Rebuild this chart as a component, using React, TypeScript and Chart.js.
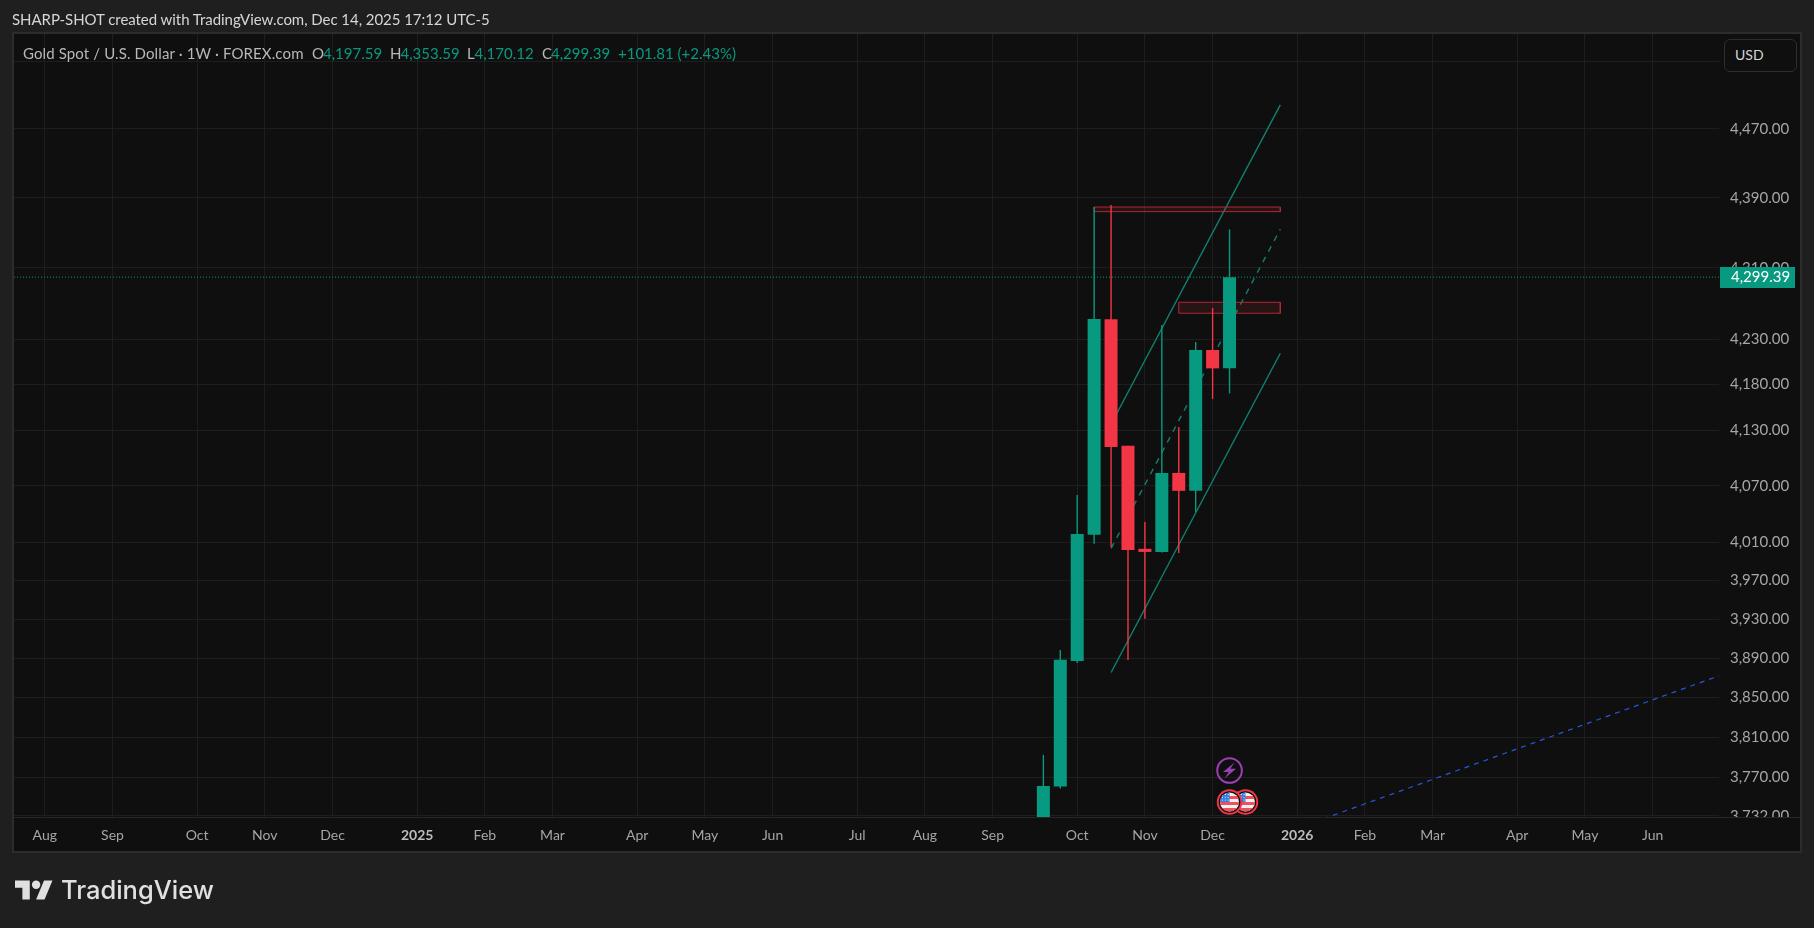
import React, { useEffect, useRef } from 'react';
import { Chart, registerables } from 'chart.js';

Chart.register(...registerables);

const FONT = 'Lato, "Open Sans", sans-serif';
const GREEN = '#089981';
const RED = '#f23645';

// weekly candles, week 0 = 2025-09-22
const weeks = [0, 1, 2, 3, 4, 5, 6, 7, 8, 9, 10, 11];
const opens = [3685, 3761, 3887, 4018, 4252, 4113, 4003.3, 4000, 4083.9, 4064.7, 4217.9, 4197.59];
const highs = [3792.4, 3898.4, 4060.4, 4379.3, 4381.7, 4113, 4031.7, 4245.8, 4133.5, 4226.8, 4264.7, 4353.59];
const lows = [3680, 3759, 3885, 4008.5, 4005.3, 3888, 3930.3, 3999.5, 3999, 4042.3, 4164, 4170.12];
const closes = [3761.6, 3888.2, 4019, 4252.4, 4111.9, 4002, 4000, 4083.9, 4064.7, 4217.9, 4197.59, 4299.39];

// price axis
const priceTicks = [4550, 4470, 4390, 4310, 4230, 4180, 4130, 4070, 4010, 3970, 3930, 3890, 3850, 3810, 3770, 3732];
const hiddenPriceLabels = [4550];
const lastPrice = 4299.39;

// time axis (weeks relative to week 0)
const timeTicks = [-59, -55, -50, -46, -42, -37, -33, -29, -24, -20, -16, -11, -7, -3, 2, 6, 10, 15, 19, 23, 28, 32, 36];
const timeLabels = ['Aug', 'Sep', 'Oct', 'Nov', 'Dec', '2025', 'Feb', 'Mar', 'Apr', 'May', 'Jun', 'Jul', 'Aug', 'Sep', 'Oct', 'Nov', 'Dec', '2026', 'Feb', 'Mar', 'Apr', 'May', 'Jun'];

// drawings on the chart: [week, price]
const channelUpper = [[4, 4136.4], [14, 4498.3]];
const channelMiddle = [[4, 4003.7], [14, 4353.9]];
const channelLower = [[4, 3875.3], [14, 4214.3]];
const blueTrend = [[16, 3725.9], [40, 3872.4]];
const zoneTop = { from: 3, to: 14, high: 4379.3, low: 4374 };
const zoneMid = { from: 8, to: 14, high: 4271.1, low: 4258.8 };

const toPoints = (pts: number[][]) => pts.map(([x, y]) => ({ x, y }));
const zonePoints = (z: { from: number; to: number; high: number; low: number }) => [
  { x: z.from, y: z.high },
  { x: z.to, y: z.high },
  { x: z.to, y: z.low },
  { x: z.from, y: z.low },
  { x: z.from, y: z.high }
];

const formatPrice = (v: number) =>
  v.toLocaleString('en-US', { minimumFractionDigits: 2, maximumFractionDigits: 2 });

function drawFlag(ctx: CanvasRenderingContext2D, cx: number, cy: number) {
  ctx.save();
  ctx.beginPath();
  ctx.arc(cx, cy, 12.8, 0, Math.PI * 2);
  ctx.fillStyle = RED;
  ctx.fill();
  ctx.beginPath();
  ctx.arc(cx, cy, 10.8, 0, Math.PI * 2);
  ctx.fillStyle = '#0f0f0f';
  ctx.fill();
  ctx.beginPath();
  ctx.arc(cx, cy, 9.5, 0, Math.PI * 2);
  ctx.clip();
  ctx.fillStyle = '#f0f0f0';
  ctx.fillRect(cx - 10, cy - 10, 20, 20);
  ctx.fillStyle = '#f0505c';
  for (let i = 0; i < 3; i++) ctx.fillRect(cx - 10, cy - 6 + i * 6, 20, 3);
  ctx.fillStyle = '#2f7fe0';
  ctx.fillRect(cx - 10, cy - 10, 10, 10);
  ctx.fillStyle = '#e8f0ff';
  for (let i = 0; i < 3; i++) {
    for (let j = 0; j < 3; j++) ctx.fillRect(cx - 7.5 + i * 2.8, cy - 8 + j * 2.8, 1, 1);
  }
  ctx.restore();
}

function drawBolt(ctx: CanvasRenderingContext2D, cx: number, cy: number) {
  ctx.save();
  ctx.beginPath();
  ctx.arc(cx, cy, 12.3, 0, Math.PI * 2);
  ctx.lineWidth = 2;
  ctx.strokeStyle = '#9c3fb5';
  ctx.stroke();
  ctx.beginPath();
  ctx.moveTo(cx + 5, cy - 8);
  ctx.lineTo(cx - 6.5, cy + 1.5);
  ctx.lineTo(cx - 0.8, cy + 1.5);
  ctx.lineTo(cx - 5, cy + 8);
  ctx.lineTo(cx + 6.5, cy - 1.8);
  ctx.lineTo(cx + 0.8, cy - 1.8);
  ctx.closePath();
  ctx.fillStyle = '#9c3fb5';
  ctx.fill();
  ctx.restore();
}

const panelPlugin = {
  id: 'panel',
  beforeDraw(chart: Chart) {
    const ctx = chart.ctx;
    ctx.save();
    ctx.fillStyle = '#1f1f1f';
    ctx.fillRect(0, 0, 1814, 928);
    ctx.fillStyle = '#2c2c2c';
    ctx.fillRect(12, 32, 1790, 821);
    ctx.fillStyle = '#0f0f0f';
    ctx.fillRect(14, 34, 1786, 817);
    ctx.restore();
  },
  // time axis strip goes over the bottom price label, time labels come after it (ticks.z = 1)
  afterDatasetsDraw(chart: Chart) {
    const ctx = chart.ctx;
    const x = chart.scales.x;
    ctx.save();
    ctx.fillStyle = '#0f0f0f';
    ctx.fillRect(14, 817, 1786, 34);
    ctx.fillStyle = '#262626';
    ctx.fillRect(14, 817, 1786, 1);
    drawBolt(ctx, x.getPixelForValue(11), 770.5);
    drawFlag(ctx, x.getPixelForValue(12) - 1, 802);
    drawFlag(ctx, x.getPixelForValue(11), 802);

    // last price tag
    const y = chart.scales.y.getPixelForValue(lastPrice);
    ctx.fillStyle = GREEN;
    ctx.fillRect(1720, Math.round(y) - 10, 75, 21);
    ctx.fillStyle = '#ffffff';
    ctx.font = `15px ${FONT}`;
    ctx.textBaseline = 'middle';
    ctx.textAlign = 'left';
    ctx.fillText(formatPrice(lastPrice), 1731, Math.round(y) + 0.5);
    ctx.restore();
  }
};

const legendParts = [
  { text: 'O', x: 312, color: '#b8b8b8' },
  { text: '4,197.59', x: 323, color: GREEN },
  { text: 'H', x: 390, color: '#b8b8b8' },
  { text: '4,353.59', x: 400.5, color: GREEN },
  { text: 'L', x: 467, color: '#b8b8b8' },
  { text: '4,170.12', x: 474.5, color: GREEN },
  { text: 'C', x: 542, color: '#b8b8b8' },
  { text: '4,299.39', x: 551, color: GREEN },
  { text: '+101.81 (+2.43%)', x: 618, color: GREEN }
];

const label = (x: number, y: number, extra: React.CSSProperties = {}): React.CSSProperties => ({
  position: 'absolute',
  left: x,
  top: y,
  fontFamily: FONT,
  fontSize: 15,
  lineHeight: '18px',
  whiteSpace: 'nowrap',
  ...extra
});

export default function App() {
  const canvasRef = useRef<HTMLCanvasElement>(null);

  useEffect(() => {
    if (!canvasRef.current) return;
    const lineBase = { type: 'line' as const, pointRadius: 0, borderWidth: 1, fill: false };
    const channelColor = '#10806f';
    const zoneBorder = '#ad2a37';
    const zoneFill = 'rgba(242,54,69,0.11)';
    const chart = new Chart(canvasRef.current, {
      type: 'bar',
      data: {
        datasets: [
          {
            label: 'body',
            data: weeks.map((w, i) => ({ x: w, y: [opens[i], closes[i]] })),
            backgroundColor: weeks.map((_, i) => (closes[i] >= opens[i] ? GREEN : RED)),
            barThickness: 13,
            grouped: false,
            inflateAmount: 0,
            order: 1
          },
          {
            label: 'wick',
            data: weeks.map((w, i) => ({ x: w, y: [lows[i], highs[i]] })),
            backgroundColor: weeks.map((_, i) => (closes[i] >= opens[i] ? GREEN : RED)),
            barThickness: 1.4,
            grouped: false,
            inflateAmount: 0,
            order: 2
          },
          {
            ...lineBase,
            label: 'channel upper',
            data: toPoints(channelUpper),
            borderColor: channelColor,
            borderWidth: 1.4,
            order: 5
          },
          {
            ...lineBase,
            label: 'channel middle',
            data: toPoints(channelMiddle),
            borderColor: channelColor,
            borderWidth: 1.4,
            borderDash: [6, 6],
            order: 5
          },
          {
            ...lineBase,
            label: 'channel lower',
            data: toPoints(channelLower),
            borderColor: channelColor,
            borderWidth: 1.4,
            order: 5
          },
          {
            ...lineBase,
            label: 'zone top',
            data: zonePoints(zoneTop),
            borderColor: zoneBorder,
            backgroundColor: zoneFill,
            fill: 'shape',
            order: 4
          },
          {
            ...lineBase,
            label: 'zone mid',
            data: zonePoints(zoneMid),
            borderColor: zoneBorder,
            backgroundColor: zoneFill,
            fill: 'shape',
            order: 4
          },
          {
            ...lineBase,
            label: 'trend',
            data: toPoints(blueTrend),
            borderColor: '#2458dc',
            borderWidth: 1.2,
            borderDash: [5, 5],
            order: 6
          },
          {
            ...lineBase,
            label: 'last price',
            data: [
              { x: -61, y: lastPrice },
              { x: 40, y: lastPrice }
            ],
            borderColor: GREEN,
            borderDash: [1, 2],
            order: 3
          }
        ] as any
      },
      options: {
        responsive: false,
        animation: false,
        devicePixelRatio: 1,
        events: [],
        layout: {
          autoPadding: false,
          padding: { left: 14, top: 34, right: 14, bottom: 77 }
        },
        plugins: {
          legend: { display: false },
          tooltip: { enabled: false }
        },
        scales: {
          x: {
            type: 'linear',
            min: -60.82,
            max: 39.92,
            offset: false,
            bounds: 'data',
            grid: { color: '#1e1e1e', lineWidth: 1, drawTicks: false, offset: false },
            border: { display: false },
            afterFit: (s: any) => {
              s.height = 34;
            },
            afterBuildTicks: (s: any) => {
              s.ticks = timeTicks.map((value) => ({ value }));
            },
            ticks: {
              z: 1,
              autoSkip: false,
              maxRotation: 0,
              padding: 10,
              callback: (v: any) => timeLabels[timeTicks.indexOf(Number(v))] ?? '',
              color: (c: any) => (/^\d/.test(c.tick?.label ?? '') ? '#bdbdbd' : '#a6a6a6'),
              font: (c: any) => ({
                family: FONT,
                size: 14,
                weight: /^\d/.test(c.tick?.label ?? '') ? 'bold' : 'normal'
              })
            }
          },
          y: {
            type: 'logarithmic',
            position: 'right',
            min: 3731,
            max: 4582.9,
            bounds: 'data',
            grid: { color: '#1e1e1e', lineWidth: 1, drawTicks: false },
            border: { display: false },
            afterFit: (s: any) => {
              s.width = 81;
            },
            afterBuildTicks: (s: any) => {
              s.ticks = priceTicks.map((value) => ({ value }));
            },
            ticks: {
              autoSkip: false,
              padding: 11,
              major: { enabled: false },
              callback: (v: any) => (hiddenPriceLabels.includes(Number(v)) ? '' : formatPrice(Number(v))),
              color: '#a6a6a6',
              font: { family: FONT, size: 15 }
            }
          }
        }
      },
      plugins: [panelPlugin]
    } as any);
    return () => chart.destroy();
  }, []);

  return (
    <div style={{ position: 'absolute', left: 0, top: 0, width: 1814, height: 928, overflow: 'hidden' }}>
      <canvas ref={canvasRef} width={1814} height={928} style={{ display: 'block' }} />
      <div style={label(12, 10, { color: '#d6d6d6', letterSpacing: -0.05 })}>SHARP-SHOT created with TradingView.com, Dec 14, 2025 17:12 UTC-5</div>
      <div style={label(23, 44, { color: '#b8b8b8', letterSpacing: 0.12 })}>Gold Spot / U.S. Dollar · 1W · FOREX.com</div>
      {legendParts.map((p) => (
        <div key={p.x} style={label(p.x, 44, { color: p.color })}>{p.text}</div>
      ))}
      <div
        style={{
          position: 'absolute',
          left: 1724,
          top: 39,
          width: 71,
          height: 31,
          border: '1px solid #2e2e2e',
          borderRadius: 6,
          background: '#0f0f0f'
        }}
      />
      <div style={label(1735, 46, { color: '#d6d6d6', fontSize: 14 })}>USD</div>
      <svg
        style={{ position: 'absolute', left: 15, top: 876 }}
        width="38"
        height="30"
        viewBox="0 0 36 28"
        fill="#e0e0e0"
      >
        <path d="M14 22H7V11H0V4h14v18zM28 22h-8l7.5-18h8L28 22z" />
        <circle cx="20" cy="8" r="4" />
      </svg>
      <div style={label(61, 874, { color: '#e0e0e0', fontFamily: 'Inter, sans-serif', fontWeight: 500, fontSize: 25.5, lineHeight: '32px' })}>TradingView</div>
    </div>
  );
}
